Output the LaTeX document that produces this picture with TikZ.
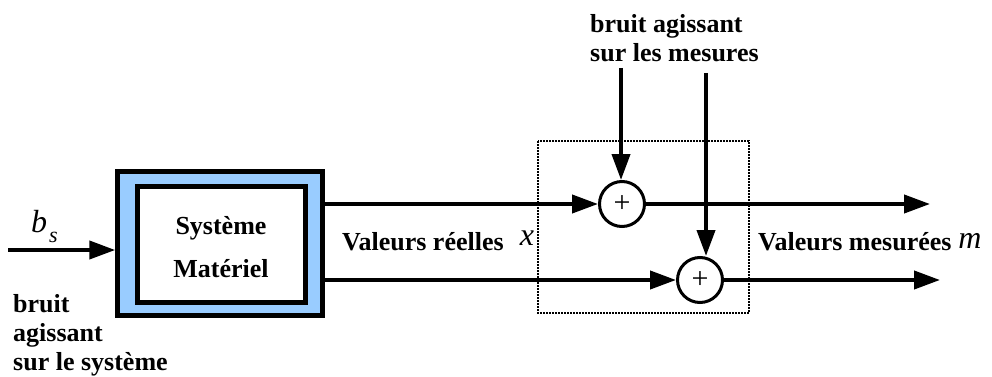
\documentclass[tikz,border=0pt]{standalone}
\usepackage{fontspec}
\setmainfont{Liberation Serif}
\usetikzlibrary{arrows.meta}
\definecolor{boxblue}{RGB}{153,204,255}
\tikzset{
  lbl/.style={font=\fontsize{26}{29}\selectfont\bfseries, inner sep=0pt},
  var/.style={font=\fontsize{32}{34}\selectfont\itshape, inner sep=0pt},
  arr/.style={line width=4pt, -{Triangle[length=26pt,width=18pt]}},
  sum/.style={circle, draw, line width=3pt, minimum size=45pt, inner sep=0pt, font=\fontsize{30}{30}\selectfont},
}
\begin{document}
\begin{tikzpicture}[x=1pt,y=-1pt]
\useasboundingbox (0,0) rectangle (992,377);
% system block
\node[draw, line width=4.5pt, fill=boxblue, minimum width=205pt, minimum height=144pt, inner sep=0pt] (sys) at (220,243.5) {};
\node[draw, line width=4.5pt, fill=white, minimum width=168pt, minimum height=116pt, inner sep=0pt] (inner) at (221.5,244.5) {};
\node[lbl, anchor=base] (t1) at (221,234) {Système};
\node[lbl, anchor=base] (t2) at (221,277) {Matériel};
% input
\coordinate (in) at (8,250);
\draw[arr] (in) -- (in -| sys.west);
\node[var, anchor=base west] (bs) at (31,232) {b};
\node[font=\fontsize{22}{22}\selectfont\itshape, inner sep=0pt, anchor=base west] (bss) at (49,242) {s};
\node[lbl, anchor=base west] (bsys) at (13,312) {bruit};
\node[lbl, anchor=base west] (bsys2) at (13,341) {agissant};
\node[lbl, anchor=base west] (bsys3) at (13,370) {sur le système};
% summing junctions
\node[sum] (c1) at (622,204) {+};
\node[sum] (c2) at (700,280) {+};
\draw[arr] (sys.east |- c1) -- (c1.west);
\draw[arr] (sys.east |- c2) -- (c2.west);
% noise on measurements
\node[lbl, anchor=base west] (bm1) at (590,33) {bruit agissant};
\node[lbl, anchor=base west] (bm2) at (590,62) {sur les mesures};
\coordinate (n1) at (621,68);
\coordinate (n2) at (706,73);
\draw[arr] (n1) -- (n1 |- c1.north);
\draw[arr] (n2) -- (n2 |- c2.north);
% dotted box
\draw[line width=2pt, densely dotted] (538,141) rectangle (749,313);
% outputs
\coordinate (o1) at (930,204);
\coordinate (o2) at (940,281);
\draw[arr] (c1.east) -- (o1);
\draw[arr] (c2.east) -- (c2.east -| o2);
% labels
\node[lbl, anchor=base west] (vr) at (342,250) {Valeurs réelles};
\node[var, anchor=base] (x) at (527,245) {x};
\node[lbl, anchor=base west] (vm) at (758,250) {Valeurs mesurées};
\node[var, anchor=base] (m) at (970,248) {m};
\end{tikzpicture}
\end{document}
